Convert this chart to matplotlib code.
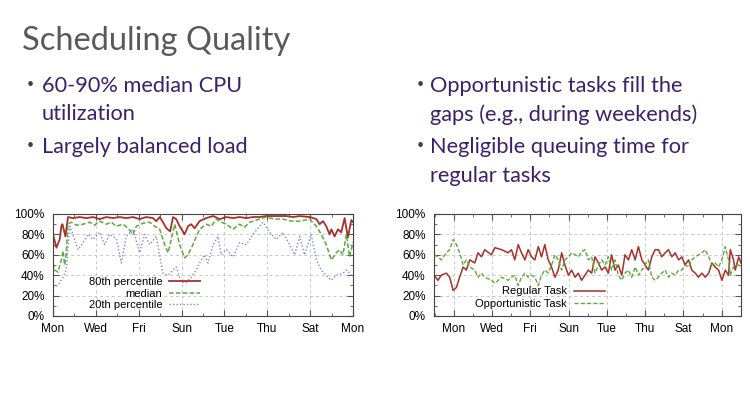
import numpy as np
import matplotlib.pyplot as plt
from matplotlib.ticker import MultipleLocator, FuncFormatter

red = '#a8302a'
green = '#5aab3a'
blue = '#8383e6'
purple = '#3b2167'

day_names = ['Mon', 'Wed', 'Fri', 'Sun', 'Tue', 'Thu', 'Sat', 'Mon']

#### Left chart: CPU utilization percentiles (x in days from first Monday)
p80_day = [0, 0.16, 0.31, 0.39, 0.44, 0.50, 0.58, 0.70, 0.93, 1.24, 1.56, 1.87, 2.18, 2.49, 2.80,
           3.11, 3.42, 3.73, 4.04, 4.35, 4.67, 4.82, 4.98, 5.13, 5.29, 5.47, 5.60, 5.75, 5.91, 6.03,
           6.14, 6.30, 6.45, 6.61, 6.84, 7.15, 7.47, 7.78, 8.09, 8.40, 8.71, 9.02, 9.33, 9.64, 9.95,
           10.42, 10.89, 11.20, 11.51, 11.98, 12.29, 12.44, 12.60, 12.75, 12.91, 12.99, 13.14, 13.30,
           13.45, 13.61, 13.76, 13.92, 14.0]
p80 = [80, 67, 75, 88, 90, 85, 78, 97, 96, 97, 96, 97, 95, 97, 96,
       97, 96, 97, 95, 97, 96, 93, 97, 92, 86, 83, 97, 95, 88, 84,
       80, 88, 90, 86, 93, 96, 98, 95, 97, 96, 97, 96, 97, 97, 98,
       98, 98, 97, 98, 97, 95, 90, 93, 88, 80, 85, 78, 85,
       82, 96, 77, 94, 92]

med_day = [0, 0.08, 0.23, 0.39, 0.47, 0.54, 0.62, 0.70, 0.86, 1.09, 1.40, 1.71, 1.94, 2.18, 2.49,
           2.72, 2.95, 3.27, 3.50, 3.73, 3.89, 4.20, 4.51, 4.74, 4.98, 5.21, 5.37, 5.52, 5.68, 5.91,
           6.14, 6.30, 6.53, 6.69, 6.84, 7.15, 7.39, 7.62, 7.85, 8.09, 8.40, 8.71, 8.94, 9.18, 9.49,
           9.95, 10.34, 10.73, 11.12, 11.51, 11.98, 12.29, 12.52, 12.75, 12.99, 13.22, 13.37, 13.53,
           13.69, 13.84, 14.0]
med = [52, 45, 43, 55, 64, 50, 62, 90, 92, 89, 90, 92, 89, 93, 90,
       92, 88, 90, 86, 80, 88, 91, 92, 88, 85, 70, 62, 75, 90, 70,
       57, 60, 70, 78, 85, 90, 88, 95, 92, 90, 85, 90, 87, 92, 94,
       97, 95, 95, 93, 93, 95, 88, 80, 70, 55, 62, 65, 60,
       80, 58, 72]

p20_day = [0, 0.23, 0.47, 0.62, 0.78, 0.93, 1.17, 1.40, 1.63, 1.87, 2.18, 2.41, 2.64, 2.95, 3.19,
           3.42, 3.73, 4.04, 4.28, 4.51, 4.82, 5.13, 5.37, 5.60, 5.75, 5.99, 6.22, 6.45, 6.69, 6.84,
           7.08, 7.23, 7.47, 7.70, 7.85, 8.09, 8.40, 8.71, 9.02, 9.33, 9.80, 10.11, 10.42, 10.73,
           11.04, 11.28, 11.51, 11.74, 12.05, 12.29, 12.52, 12.83, 12.99, 13.22, 13.53, 13.69, 13.84, 14.0]
p20 = [28, 30, 38, 45, 88, 80, 65, 72, 80, 75, 82, 70, 80, 76, 52,
       78, 85, 62, 80, 70, 78, 42, 40, 45, 48, 33, 33, 38, 45, 52,
       60, 52, 70, 78, 60, 65, 58, 72, 70, 80, 92, 82, 75, 82,
       70, 60, 78, 60, 80, 55, 45, 38, 35, 40, 42, 45, 42, 38]

#### Right chart: regular vs opportunistic tasks (x in days from first Monday)
task_day = [-1.03, -0.82, -0.65, -0.38, -0.21, -0.03, 0.14, 0.31, 0.49, 0.66, 0.84, 1.10, 1.27, 1.45,
            1.62, 1.97, 2.15, 2.50, 2.84, 3.02, 3.19, 3.37, 3.54, 3.72, 3.89, 4.07, 4.24, 4.42, 4.59,
            4.76, 4.94, 5.11, 5.29, 5.46, 5.64, 5.81, 5.99, 6.16, 6.34, 6.51, 6.68, 6.86, 7.03, 7.21,
            7.38, 7.56, 7.73, 7.91, 8.08, 8.25, 8.43, 8.60, 8.78, 8.95, 9.13, 9.30, 9.48, 9.65, 9.83,
            10.00, 10.17, 10.35, 10.52, 10.70, 10.87, 11.05, 11.22, 11.40, 11.57, 11.75, 11.92, 12.09,
            12.27, 12.44, 12.62, 12.79, 12.97, 13.14, 13.32, 13.49, 13.66, 13.84, 14.01, 14.19, 14.36,
            14.45, 14.62, 14.71, 14.89, 15.01]
regular = [40, 35, 40, 42, 38, 25, 28, 38, 48, 45, 55, 52, 62, 58,
           65, 60, 67, 65, 62, 65, 55, 70, 62, 55, 65, 58, 55, 68, 58,
           70, 55, 48, 38, 45, 62, 50, 40, 45, 38, 42, 35, 40, 45, 42,
           58, 52, 45, 48, 42, 60, 45, 50, 40, 60, 55, 65, 55, 68, 55,
           50, 45, 58, 65, 65, 58, 62, 65, 58, 62, 55, 58, 50,
           55, 45, 42, 38, 42, 38, 42, 52, 48, 45, 35, 45, 40,
           65, 55, 45, 58, 52]
opportunistic = [60, 58, 55, 62, 65, 75, 70, 62, 50, 55, 48, 45, 38, 42,
                 38, 35, 32, 38, 35, 38, 40, 30, 38, 42, 38, 40, 38, 30, 40,
                 45, 42, 50, 60, 55, 45, 55, 58, 62, 60, 58, 63, 65, 55, 58,
                 42, 50, 55, 50, 58, 45, 55, 40, 35, 42, 45, 38, 48, 40, 45,
                 50, 55, 38, 35, 38, 42, 45, 38, 42, 40, 45, 45, 50,
                 48, 55, 58, 60, 62, 65, 58, 50, 52, 48, 55, 68, 55,
                 40, 48, 50, 50, 48]


fig = plt.figure(figsize=(7.5, 4.13), dpi=100)
fig.patch.set_facecolor('white')

#### Slide text
fig.text(22/750, 1-50/413, 'Scheduling Quality', fontsize=23.5, color='#595959', family='Lato')

bullets = [(27, 42, 92, '60-90% median CPU'), (None, 42, 120, 'utilization'),
           (27, 42, 153, 'Largely balanced load'),
           (417, 430, 92, 'Opportunistic tasks fill the'), (None, 430, 121, 'gaps (e.g., during weekends)'),
           (417, 430, 153, 'Negligible queuing time for'), (None, 430, 182, 'regular tasks')]
for bx, tx, ty, s in bullets:
    if bx is not None:
        fig.text(bx/750, 1-(ty-4)/413, '\u2022', fontsize=9, color='#404040', family='Lato', va='baseline')
    fig.text(tx/750, 1-ty/413, s, fontsize=15.7, color=purple, family='Lato', va='baseline')


def style_axes(ax):
    ax.set_ylim(0, 100)
    ax.yaxis.set_major_locator(MultipleLocator(20))
    ax.yaxis.set_major_formatter(FuncFormatter(lambda v, p: '%d%%' % v))
    ax.set_xticks(range(0, 15, 2))
    ax.set_xticklabels(day_names)
    ax.xaxis.set_minor_locator(MultipleLocator(1))
    ax.yaxis.set_minor_locator(MultipleLocator(10))
    ax.tick_params(which='both', direction='in', top=True, right=True, labelsize=8.5,
                   color='#555555')
    ax.tick_params(axis='x', pad=5)
    ax.tick_params(axis='y', pad=6)
    ax.tick_params(which='major', length=4)
    ax.tick_params(which='minor', length=2)
    ax.grid(True, color='#c8c8c8', linestyle=(0, (3, 3)), linewidth=0.7)
    for sp in ax.spines.values():
        sp.set_color('#444444')
        sp.set_linewidth(0.8)
    for lab in ax.get_xticklabels() + ax.get_yticklabels():
        lab.set_family('Liberation Sans')


ax1 = fig.add_axes([53/750, 1-316/413, 300/750, 102/413])
ax1.plot(p80_day, p80, color=red, linewidth=1.3, label='80th percentile')
ax1.plot(med_day, med, color=green, linewidth=1.1, linestyle=(0, (3, 1.5)), label='median')
ax1.plot(p20_day, p20, color=blue, linewidth=1.0, linestyle=(0, (1, 1.5)), label='20th percentile')
ax1.set_xlim(0, 14)
style_axes(ax1)
leg1 = ax1.legend(loc='upper right', bbox_to_anchor=(0.49, 0.38), frameon=False, markerfirst=False,
                  prop={'family': 'Liberation Sans', 'size': 8}, handlelength=2.8, handletextpad=0.6,
                  labelspacing=0.12, borderaxespad=0, borderpad=0)

ax2 = fig.add_axes([434/750, 1-316/413, 307/750, 102/413])
ax2.plot(task_day, regular, color=red, linewidth=1.1, label='Regular Task')
ax2.plot(task_day, opportunistic, color=green, linewidth=1.0, linestyle=(0, (3, 1.5)),
         label='Opportunistic Task')
ax2.set_xlim(-1.03, 15.01)
style_axes(ax2)
leg2 = ax2.legend(loc='upper right', bbox_to_anchor=(0.557, 0.29), frameon=False, markerfirst=False,
                  prop={'family': 'Liberation Sans', 'size': 8}, handlelength=2.8, handletextpad=0.6,
                  labelspacing=0.25, borderaxespad=0, borderpad=0)

fig.savefig('out.png', dpi=100)
